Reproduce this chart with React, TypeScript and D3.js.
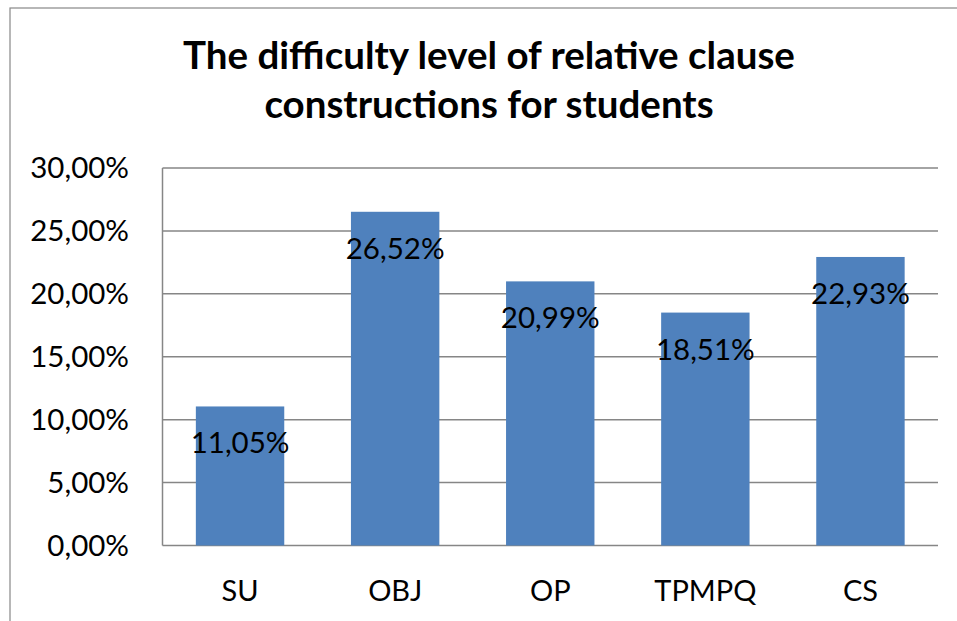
import React from "react";
import * as d3 from "d3";

const width = 957;
const height = 621;
const margin = { top: 168, right: 19, bottom: 75, left: 162.5 };

const categories = ["SU", "OBJ", "OP", "TPMPQ", "CS"];
const values = [11.05, 26.52, 20.99, 18.51, 22.93];
const yTicks = [0, 5, 10, 15, 20, 25, 30];
const titleLines = [
  "The difficulty level of relative clause",
  "constructions for students",
];

const font = "Lato, 'Open Sans', sans-serif";
const fmt = (v: number) => v.toFixed(2).replace(".", ",") + "%";

const App = () => {
  const x = d3
    .scaleBand()
    .domain(categories)
    .range([margin.left, width - margin.right])
    .paddingInner(0.43)
    .paddingOuter(0.215);

  const y = d3
    .scaleLinear()
    .domain([0, 30])
    .range([height - margin.bottom - 0.5, margin.top]);

  return (
    <svg
      width={width}
      height={height}
      style={{ position: "absolute", left: 0, top: 0, background: "#fff" }}
    >
      <rect x={10} y={8} width={width} height={height} fill="#fff" stroke="#888" strokeWidth={1.2} />

      {titleLines.map((t, i) => (
        <text
          key={t}
          x={489}
          y={69 + i * 49}
          textAnchor="middle"
          fontFamily={font}
          fontWeight="bold"
          fontSize={38.5}
          fill="#000"
        >
          {t}
        </text>
      ))}

      {yTicks.map((t) => (
        <g key={t}>
          <line
            x1={margin.left}
            x2={width - margin.right}
            y1={y(t)}
            y2={y(t)}
            stroke="#868686"
            strokeWidth={1.5}
          />
          <text
            x={129}
            y={y(t) + 10}
            textAnchor="end"
            fontFamily={font}
            fontSize={29.5}
            fill="#000"
          >
            {fmt(t)}
          </text>
        </g>
      ))}

      <line
        x1={margin.left}
        x2={margin.left}
        y1={y(30)}
        y2={y(0)}
        stroke="#868686"
        strokeWidth={1.5}
      />

      {categories.map((c, i) => (
        <g key={c}>
          <rect
            x={x(c)}
            y={y(values[i])}
            width={x.bandwidth()}
            height={y(0) - y(values[i])}
            fill="#4F81BD"
          />
          <text
            x={(x(c) ?? 0) + x.bandwidth() / 2}
            y={y(values[i]) + 47}
            textAnchor="middle"
            fontFamily={font}
            fontSize={29.5}
            fill="#000"
          >
            {fmt(values[i])}
          </text>
          <text
            x={(x(c) ?? 0) + x.bandwidth() / 2}
            y={601}
            textAnchor="middle"
            fontFamily={font}
            fontSize={29}
            fill="#000"
          >
            {c}
          </text>
        </g>
      ))}
    </svg>
  );
};

export default App;
